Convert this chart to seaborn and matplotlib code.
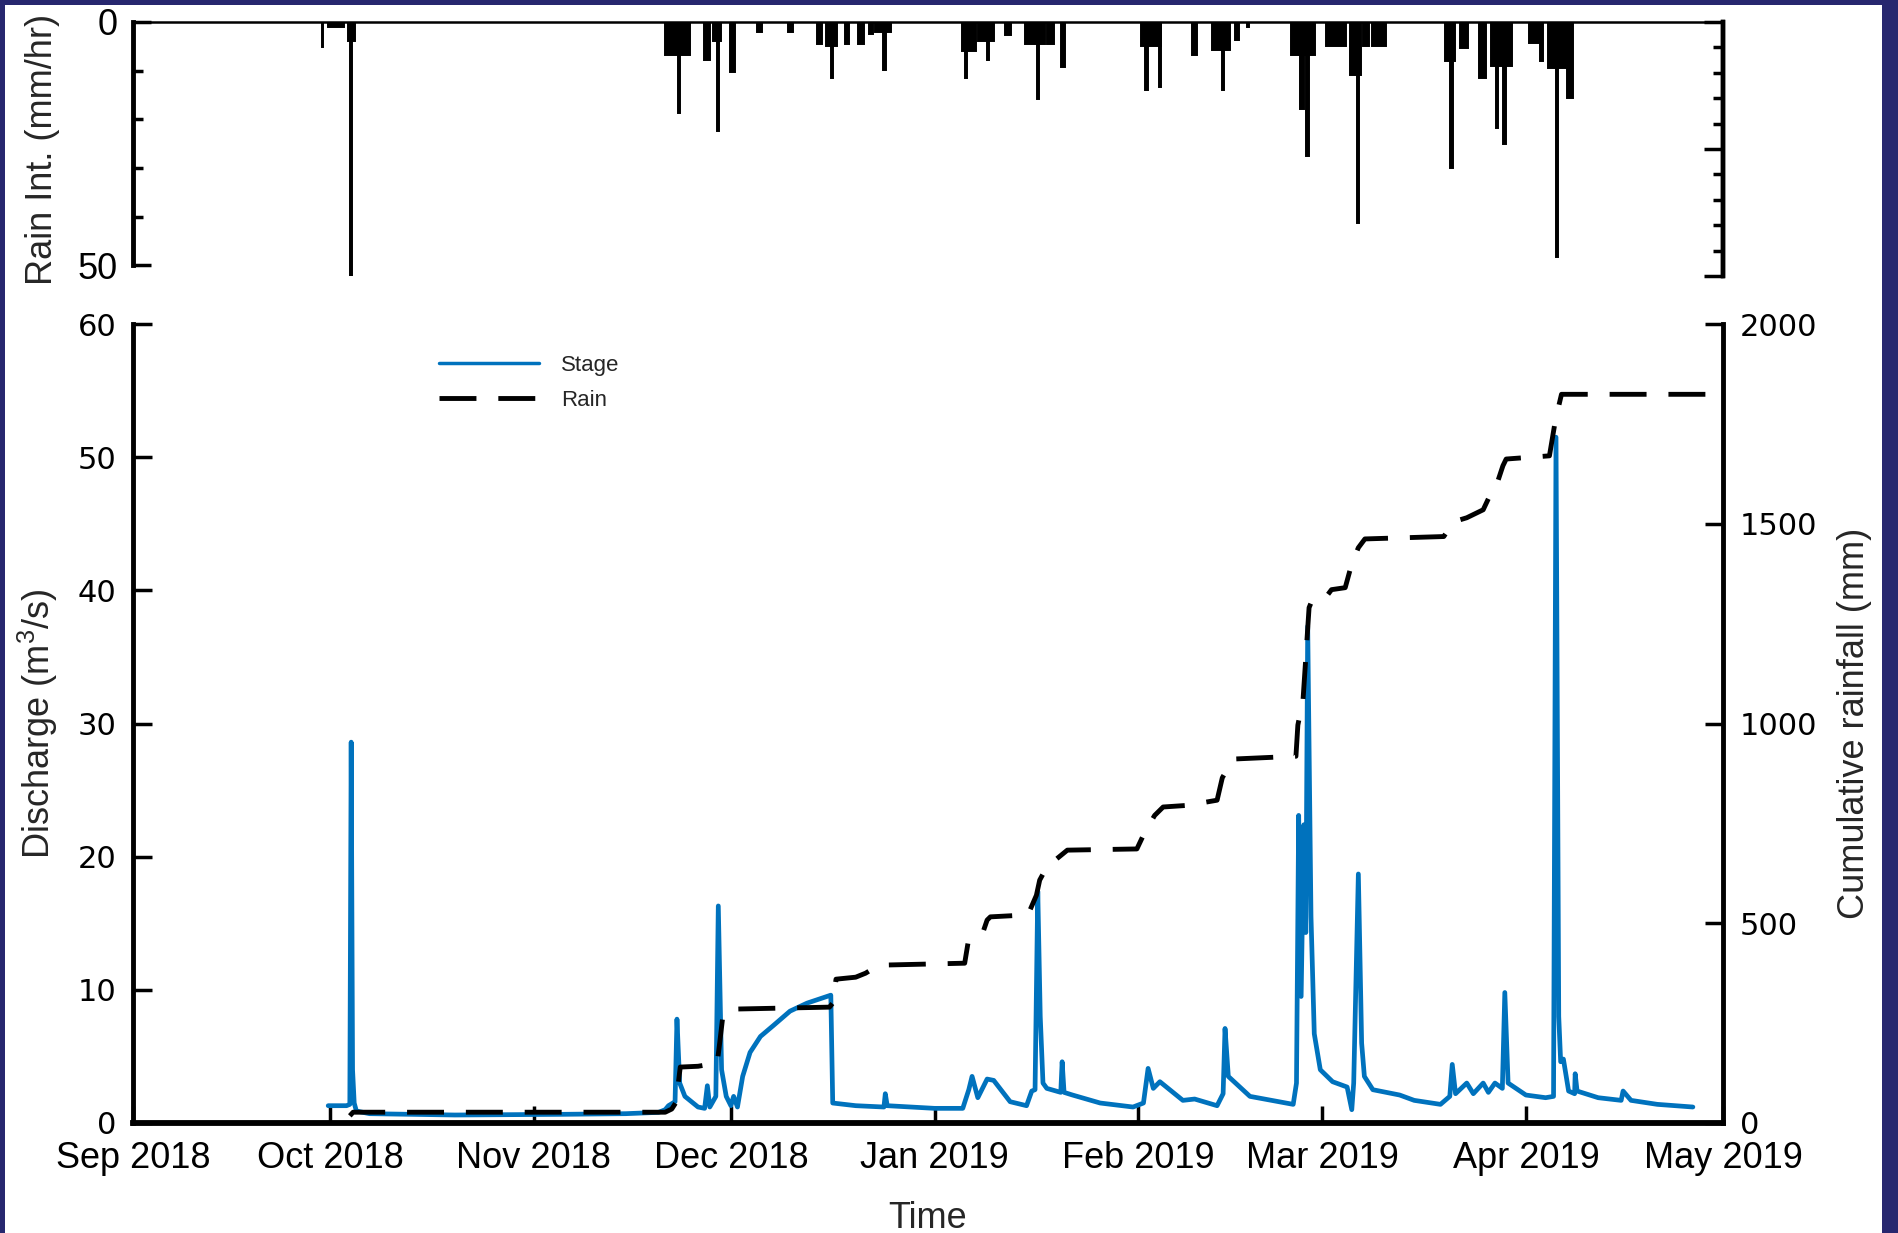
import numpy as np
import pandas as pd
import matplotlib
matplotlib.use("Agg")
import matplotlib.pyplot as plt
import matplotlib.dates as mdates
from matplotlib.patches import Rectangle
from matplotlib.lines import Line2D
from matplotlib.ticker import FixedLocator, NullFormatter
import seaborn as sns

# ---------------- data ----------------
# stream stage converted to discharge (m^3/s)
stage_time = [
    "2018-09-30 17:00", "2018-10-03 12:00", "2018-10-04 00:00", "2018-10-04 05:00",
    "2018-10-04 10:00", "2018-10-04 16:00", "2018-10-05 00:00", "2018-10-07 00:00",
    "2018-10-20 00:00", "2018-11-05 00:00", "2018-11-15 00:00", "2018-11-20 00:00",
    "2018-11-21 00:00", "2018-11-21 12:00", "2018-11-22 12:00", "2018-11-22 19:00",
    "2018-11-23 05:00", "2018-11-24 00:00", "2018-11-26 00:00", "2018-11-27 00:00",
    "2018-11-27 10:00", "2018-11-27 19:00", "2018-11-28 17:00", "2018-11-29 02:00",
    "2018-11-29 14:00", "2018-11-30 07:00", "2018-12-01 00:00", "2018-12-01 10:00",
    "2018-12-02 00:00", "2018-12-02 19:00", "2018-12-03 22:00", "2018-12-05 12:00",
    "2018-12-07 10:00", "2018-12-10 00:00", "2018-12-12 14:00", "2018-12-16 05:00",
    "2018-12-16 12:00", "2018-12-20 00:00", "2018-12-24 07:00", "2018-12-24 12:00",
    "2018-12-24 19:00", "2019-01-01 00:00", "2019-01-05 07:00", "2019-01-06 05:00",
    "2019-01-06 17:00", "2019-01-07 14:00", "2019-01-09 00:00", "2019-01-10 00:00",
    "2019-01-12 12:00", "2019-01-15 00:00", "2019-01-15 19:00", "2019-01-16 07:00",
    "2019-01-16 17:00", "2019-01-17 02:00", "2019-01-17 12:00", "2019-01-18 02:00",
    "2019-01-20 05:00", "2019-01-20 10:00", "2019-01-20 17:00", "2019-01-22 00:00",
    "2019-01-26 05:00", "2019-01-31 05:00", "2019-02-01 19:00", "2019-02-02 12:00",
    "2019-02-03 07:00", "2019-02-04 07:00", "2019-02-07 19:00", "2019-02-09 14:00",
    "2019-02-13 00:00", "2019-02-13 22:00", "2019-02-14 05:00", "2019-02-14 17:00",
    "2019-02-18 00:00", "2019-02-24 14:00", "2019-02-25 02:00", "2019-02-25 10:00",
    "2019-02-25 19:00", "2019-02-26 05:00", "2019-02-26 12:00", "2019-02-26 19:00",
    "2019-02-27 07:00", "2019-02-27 19:00", "2019-02-28 17:00", "2019-03-02 14:00",
    "2019-03-04 19:00", "2019-03-05 12:00", "2019-03-05 19:00", "2019-03-06 12:00",
    "2019-03-07 00:00", "2019-03-07 10:00", "2019-03-08 17:00", "2019-03-12 19:00",
    "2019-03-15 00:00", "2019-03-19 00:00", "2019-03-20 10:00", "2019-03-20 19:00",
    "2019-03-21 07:00", "2019-03-23 00:00", "2019-03-24 00:00", "2019-03-25 12:00",
    "2019-03-26 07:00", "2019-03-27 07:00", "2019-03-28 10:00", "2019-03-28 19:00",
    "2019-03-29 07:00", "2019-04-01 00:00", "2019-04-04 00:00", "2019-04-05 05:00",
    "2019-04-05 14:00", "2019-04-06 00:00", "2019-04-06 07:00", "2019-04-06 17:00",
    "2019-04-07 12:00", "2019-04-08 10:00", "2019-04-08 12:00", "2019-04-08 19:00",
    "2019-04-12 00:00", "2019-04-15 12:00", "2019-04-15 19:00", "2019-04-17 00:00",
    "2019-04-21 00:00", "2019-04-26 10:00",
]
stage_q = [
    1.3, 1.3, 1.4, 28.6,
    4.0, 1.5, 0.9, 0.7,
    0.6, 0.65, 0.7, 0.8,
    1.0, 1.3, 1.6, 7.8,
    3.0, 2.0, 1.2, 1.1,
    2.8, 1.2, 2.0, 16.3,
    4.0, 2.0, 1.3, 2.0,
    1.2, 3.5, 5.3, 6.5,
    7.3, 8.4, 9.0, 9.6,
    1.5, 1.3, 1.2, 2.2,
    1.3, 1.1, 1.1, 2.5,
    3.5, 1.9, 3.3, 3.2,
    1.6, 1.3, 2.4, 2.5,
    17.4, 8.0, 3.0, 2.6,
    2.3, 4.6, 2.3, 2.1,
    1.5, 1.2, 1.5, 4.1,
    2.6, 3.1, 1.7, 1.8,
    1.3, 2.2, 7.1, 3.5,
    2.0, 1.4, 3.0, 23.1,
    9.5, 22.4, 14.3, 37.3,
    15.5, 6.7, 4.0, 3.1,
    2.7, 1.0, 3.0, 18.7,
    6.0, 3.5, 2.5, 2.1,
    1.7, 1.4, 2.0, 4.4,
    2.2, 3.0, 2.2, 3.0,
    2.3, 3.0, 2.6, 9.8,
    3.0, 2.1, 1.9, 2.0,
    51.5, 8.0, 4.6, 4.8,
    2.4, 2.2, 3.7, 2.4,
    1.9, 1.7, 2.4, 1.7,
    1.4, 1.2,
]

# cumulative rainfall (mm)
cum_time = [
    "2018-10-04 00:00", "2018-10-04 12:00", "2018-11-21 00:00", "2018-11-22 00:00",
    "2018-11-22 14:00", "2018-11-23 00:00", "2018-11-23 07:00", "2018-11-26 00:00",
    "2018-11-28 22:00", "2018-11-29 07:00", "2018-11-29 19:00", "2018-12-01 00:00",
    "2018-12-16 00:00", "2018-12-16 12:00", "2018-12-17 00:00", "2018-12-20 00:00",
    "2018-12-21 12:00", "2018-12-23 12:00", "2019-01-05 14:00", "2019-01-06 02:00",
    "2019-01-08 05:00", "2019-01-09 00:00", "2019-01-09 12:00", "2019-01-15 05:00",
    "2019-01-16 12:00", "2019-01-17 00:00", "2019-01-18 02:00", "2019-01-21 05:00",
    "2019-01-31 19:00", "2019-02-02 00:00", "2019-02-03 12:00", "2019-02-04 19:00",
    "2019-02-08 10:00", "2019-02-13 00:00", "2019-02-13 19:00", "2019-02-15 10:00",
    "2019-02-25 00:00", "2019-02-25 07:00", "2019-02-26 02:00", "2019-02-27 00:00",
    "2019-02-27 12:00", "2019-03-01 12:00", "2019-03-02 10:00", "2019-03-04 12:00",
    "2019-03-05 12:00", "2019-03-06 12:00", "2019-03-07 12:00", "2019-03-19 12:00",
    "2019-03-21 00:00", "2019-03-23 00:00", "2019-03-25 12:00", "2019-03-26 12:00",
    "2019-03-27 07:00", "2019-03-28 12:00", "2019-03-29 00:00", "2019-04-04 14:00",
    "2019-04-05 12:00", "2019-04-06 10:00", "2019-05-01 00:00",
]
cum_mm = [
    18, 27, 27, 35,
    50, 100, 140, 142,
    150, 200, 270, 285,
    290, 300, 360, 365,
    375, 395, 400, 450,
    470, 508, 516, 521,
    570, 608, 641, 683,
    686, 728, 770, 791,
    795, 808, 864, 911,
    918, 996, 1060, 1290,
    1310, 1315, 1335, 1340,
    1400, 1440, 1462, 1468,
    1505, 1515, 1535, 1570,
    1585, 1645, 1662, 1670,
    1760, 1824, 1824,
]

# rain intensity bursts: start time, duration (hours), intensity (mm/hr)
rain_start = [
    "2018-09-29 17:00", "2018-09-30 17:00", "2018-10-03 17:00", "2018-10-04 00:00",
    "2018-11-21 00:00", "2018-11-22 22:00", "2018-11-26 22:00", "2018-11-28 05:00",
    "2018-11-28 22:00", "2018-11-30 22:00", "2018-12-05 00:00", "2018-12-09 17:00",
    "2018-12-14 02:00", "2018-12-15 12:00", "2018-12-16 05:00", "2018-12-18 07:00",
    "2018-12-20 07:00", "2018-12-22 00:00", "2018-12-23 00:00", "2018-12-24 05:00",
    "2019-01-05 05:00", "2019-01-05 14:00", "2019-01-07 14:00", "2019-01-09 00:00",
    "2019-01-11 17:00", "2019-01-14 19:00", "2019-01-16 14:00", "2019-01-18 02:00",
    "2019-01-20 05:00", "2019-02-01 10:00", "2019-02-02 02:00", "2019-02-04 02:00",
    "2019-02-09 05:00", "2019-02-12 07:00", "2019-02-13 19:00", "2019-02-15 17:00",
    "2019-02-17 12:00", "2019-02-24 05:00", "2019-02-25 14:00", "2019-02-26 14:00",
    "2019-03-01 14:00", "2019-03-05 05:00", "2019-03-06 07:00", "2019-03-07 05:00",
    "2019-03-08 14:00", "2019-03-19 17:00", "2019-03-20 12:00", "2019-03-22 00:00",
    "2019-03-24 19:00", "2019-03-26 17:00", "2019-03-27 10:00", "2019-03-28 14:00",
    "2019-04-01 12:00", "2019-04-03 05:00", "2019-04-04 10:00", "2019-04-05 14:00",
    "2019-04-07 07:00",
]
rain_hours = [
    5, 58, 26, 8,
    91, 8, 22, 31,
    8, 17, 17, 19,
    19, 41, 8, 17,
    24, 14, 58, 8,
    50, 8, 58, 8,
    24, 72, 8, 26,
    14, 74, 8, 8,
    19, 65, 8, 14,
    7, 89, 14, 8,
    72, 41, 8, 22,
    50, 36, 8, 29,
    29, 77, 8, 8,
    48, 8, 70, 8,
    22,
]
rain_mmhr = [
    5.2, 1.0, 4.0, 52.2,
    6.8, 18.8, 7.9, 4.0,
    22.5, 10.3, 2.0, 2.0,
    4.5, 5.0, 11.6, 4.5,
    4.5, 2.4, 2.0, 9.9,
    6.0, 11.6, 4.0, 7.9,
    2.7, 4.5, 15.8, 4.5,
    9.2, 5.0, 14.0, 13.4,
    6.8, 5.8, 14.0, 3.8,
    1.0, 6.8, 17.8, 27.6,
    5.0, 10.8, 41.4, 5.0,
    5.0, 8.0, 30.0, 5.3,
    11.5, 9.0, 21.8, 25.0,
    4.3, 8.0, 9.4, 48.3,
    15.6,
]

month_ticks = ["2018-09-01", "2018-10-01", "2018-11-01", "2018-12-01", "2019-01-01",
               "2019-02-01", "2019-03-01", "2019-04-01", "2019-05-01"]
month_labels = ["Sep 2018", "Oct 2018", "Nov 2018", "Dec 2018", "Jan 2019",
                "Feb 2019", "Mar 2019", "Apr 2019", "May 2019"]
q_ticks = [0, 10, 20, 30, 40, 50, 60]
cum_ticks = [0, 500, 1000, 1500, 2000]

# ---------------- style ----------------
sns.set_theme(style="ticks")
plt.rcParams["font.family"] = ["Liberation Sans", "DejaVu Sans"]
plt.rcParams["mathtext.fontset"] = "custom"
plt.rcParams["mathtext.rm"] = "Liberation Sans"
plt.rcParams["mathtext.it"] = "Liberation Sans:italic"
plt.rcParams["mathtext.bf"] = "Liberation Sans:bold"
plt.rcParams["axes.edgecolor"] = "black"
plt.rcParams["xtick.color"] = "black"
plt.rcParams["ytick.color"] = "black"

W, H = 1898, 1233
fig = plt.figure(figsize=(W / 100, H / 100), dpi=100, facecolor="#27276f")
fig.add_artist(Rectangle((5 / W, 0), (1882 - 5) / W, (H - 5) / H,
                         transform=fig.transFigure, facecolor="white",
                         edgecolor="none", zorder=0))

STAGE_BLUE = "#0072BD"
x0 = pd.Timestamp("2018-09-01")
x1 = pd.Timestamp("2019-05-01")

# ---------------- main panel: discharge + cumulative rain ----------------
ax_q = fig.add_axes([133 / W, 1 - 1123 / H, 1590 / W, 799 / H])
ax_q.set_facecolor("white")
ax_cum = ax_q.twinx()

stage_df = pd.DataFrame({"time": pd.to_datetime(stage_time), "q": stage_q})
cum_df = pd.DataFrame({"time": pd.to_datetime(cum_time), "mm": cum_mm})

sns.lineplot(data=stage_df, x="time", y="q", ax=ax_q, color=STAGE_BLUE,
             linewidth=3.4, estimator=None, sort=False, legend=False)
sns.lineplot(data=cum_df, x="time", y="mm", ax=ax_cum, color="black",
             linewidth=3.5, estimator=None, sort=False, legend=False)
ax_cum.lines[-1].set_linestyle((0, (7.6, 4.5)))

ax_q.set_xlim(x0, x1)
ax_q.set_ylim(0, 60)
ax_cum.set_ylim(0, 2000)

ax_q.set_xticks(pd.to_datetime(month_ticks))
ax_q.set_xticklabels(month_labels)
ax_q.set_yticks(q_ticks)
ax_cum.set_yticks(cum_ticks)

for side in ["top", "right"]:
    ax_q.spines[side].set_visible(False)
for side in ["top", "left", "bottom"]:
    ax_cum.spines[side].set_visible(False)
ax_q.spines["left"].set_linewidth(3.5)
ax_q.spines["bottom"].set_linewidth(4.2)
ax_cum.spines["right"].set_linewidth(3.5)

ax_q.tick_params(axis="x", direction="in", length=12, width=2.5, pad=13,
                 labelsize=26, top=False)
ax_q.tick_params(axis="y", direction="in", length=14, width=2.5, pad=12,
                 labelsize=22, labelfontfamily="DejaVu Sans", right=False)
ax_cum.tick_params(axis="y", direction="in", length=13, width=2.5, pad=12,
                   labelsize=22, labelfontfamily="DejaVu Sans", left=False)

ax_q.set_xlabel("Time", fontsize=26)
ax_q.set_ylabel("Discharge (m$^{3}$/s)", fontsize=26)
ax_cum.set_ylabel("Cumulative rainfall (mm)", fontsize=26)
ax_q.xaxis.set_label_coords(0.5, -0.097)
ax_q.yaxis.set_label_coords(-0.046, 0.5)
ax_cum.yaxis.set_label_coords(1.072, 0.5)

handles = [
    Line2D([], [], color=STAGE_BLUE, linewidth=2.5),
    Line2D([], [], color="black", linewidth=3.5, linestyle=(0, (7.6, 4.5))),
]
ax_cum.legend(handles, ["Stage", "Rain"], loc="upper left",
              bbox_to_anchor=(0.1925, 0.961), frameon=False, fontsize=16,
              borderpad=0, borderaxespad=0, handlelength=4.5,
              handletextpad=1.0, labelspacing=0.62)

# ---------------- top panel: rain intensity (inverted) ----------------
ax_rain = fig.add_axes([133 / W, 1 - 276 / H, 1590 / W, 254 / H])
ax_rain.set_facecolor("white")
rain_left = mdates.date2num(pd.to_datetime(rain_start))
rain_width = np.asarray(rain_hours, dtype=float) / 24.0
ax_rain.bar(rain_left, rain_mmhr, width=rain_width, align="edge",
            color="black", edgecolor="black", linewidth=1.4)
ax_rain.set_xlim(mdates.date2num(x0), mdates.date2num(x1))
ax_rain.set_ylim(52.2, 0)

ax_rain.spines["bottom"].set_visible(False)
ax_rain.spines["top"].set_linewidth(1.8)
ax_rain.spines["left"].set_linewidth(3.5)
ax_rain.spines["right"].set_linewidth(3.2)
ax_rain.spines["left"].set_bounds(0, 50)
ax_rain.tick_params(axis="x", bottom=False, labelbottom=False, top=False)
ax_rain.set_yticks([0, 50])
ax_rain.yaxis.set_minor_locator(FixedLocator([10, 20, 30, 40]))
ax_rain.tick_params(axis="y", which="major", direction="in", length=13,
                    width=2.5, pad=11, labelsize=26, right=False)
ax_rain.tick_params(axis="y", which="minor", direction="in", length=7,
                    width=2.5, right=False)
ax_rain.set_ylabel("Rain Int. (mm/hr)", fontsize=26)
ax_rain.yaxis.set_label_coords(-0.046, 0.5)

ax_rain_r = ax_rain.twinx()
ax_rain_r.set_ylim(10, 0)
for side in ["top", "left", "bottom"]:
    ax_rain_r.spines[side].set_visible(False)
ax_rain_r.spines["right"].set_linewidth(3.2)
ax_rain_r.set_yticks([0, 5, 10])
ax_rain_r.yaxis.set_minor_locator(FixedLocator([1, 2, 3, 4, 6, 7, 8, 9]))
ax_rain_r.yaxis.set_major_formatter(NullFormatter())
ax_rain_r.tick_params(axis="y", which="major", direction="in", length=14,
                      width=2.5, left=False)
ax_rain_r.tick_params(axis="y", which="minor", direction="in", length=7,
                      width=2.5, left=False)

fig.savefig("out.png", dpi=100, facecolor=fig.get_facecolor())
